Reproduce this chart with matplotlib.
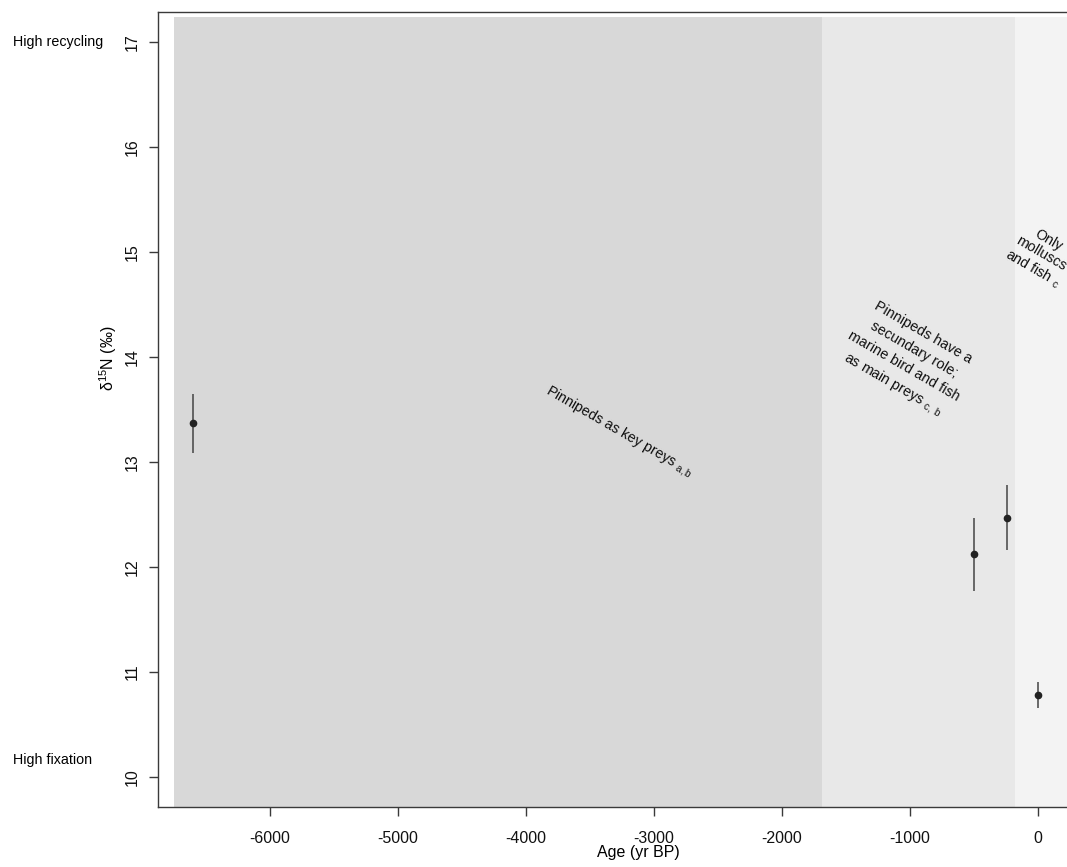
import matplotlib
matplotlib.use("Agg")
import matplotlib.pyplot as plt
from matplotlib.patches import Rectangle

plt.rcParams["font.family"] = ["Liberation Sans", "DejaVu Sans"]
plt.rcParams["mathtext.fontset"] = "custom"
plt.rcParams["mathtext.rm"] = "Liberation Sans"
plt.rcParams["mathtext.it"] = "Liberation Sans:italic"

# samples: age (yr BP), mean d15N and error
ages = [-6600, -500, -240, 0]
d15n = [13.37, 12.12, 12.47, 10.78]
d15n_err = [0.28, 0.35, 0.31, 0.12]

# diet periods (start, end) in yr BP and their shading
period_edges = [-6750, -1690, -180, 625]
period_colors = ["#d8d8d8", "#e8e8e8", "#f3f3f3"]
period_labels = [
    "Pinnipeds as key preys ${}_{\\mathrm{a,b}}$",
    "Pinnipeds have a\nsecundary role;\nmarine bird and fish\nas main preys ${}_{\\mathrm{c,\\ b}}$",
    "Only\nmolluscs\nand fish ${}_{\\mathrm{c}}$",
]
label_pos = [(-3270, 13.29), (-1020, 13.97), (16, 14.97)]
label_spacing = [1.2, 1.45, 1.15]

x_ticks = [-6000, -5000, -4000, -3000, -2000, -1000, 0]
y_ticks = [10, 11, 12, 13, 14, 15, 16, 17]

W, H = 1067, 867
fig = plt.figure(figsize=(W / 100, H / 100), dpi=100)
ax = fig.add_axes([158 / W, 60 / H, 960 / W, 795 / H])
ax.set_xlim(-6875, 625)
ax.set_ylim(9.714, 17.286)

for i, color in enumerate(period_colors):
    ax.add_patch(Rectangle((period_edges[i], 9.6), period_edges[i + 1] - period_edges[i],
                           17.24 - 9.6, facecolor=color, edgecolor="none", zorder=0))

for (x, y), text, ls in zip(label_pos, period_labels, label_spacing):
    ax.text(x, y, text, rotation=-30, rotation_mode="anchor", ha="center", va="center",
            multialignment="center", fontsize=10.3, color="#111111", linespacing=ls)

ax.errorbar(ages, d15n, yerr=d15n_err, fmt="o", color="#222222", ecolor="#444444",
            elinewidth=1.1, markersize=4.5, capsize=0, zorder=3)

for side in ["left", "top", "bottom", "right"]:
    ax.spines[side].set_color("#3a3a3a")
    ax.spines[side].set_linewidth(1.0)

ax.set_xticks(x_ticks)
ax.set_xticklabels([str(t) for t in x_ticks])
ax.set_yticks(y_ticks)
ax.set_yticklabels([str(t) for t in y_ticks], rotation=90, va="center")
ax.tick_params(axis="both", length=6.5, width=1.0, color="#3a3a3a", labelsize=11.5,
               labelcolor="#111111")
ax.tick_params(axis="x", pad=11)
ax.tick_params(axis="y", pad=7)

fig.text(638 / W, 1 - 852 / H, "Age (yr BP)", ha="center", va="center", fontsize=11.5)
fig.text(108 / W, 1 - 358 / H, "δ$^{15}$N (‰)", rotation=90, ha="center", va="center",
         fontsize=11.5)
fig.text(13 / W, 1 - 42 / H, "High recycling", ha="left", va="center", fontsize=10.3)
fig.text(13 / W, 1 - 760 / H, "High fixation", ha="left", va="center", fontsize=10.3)

fig.savefig("out.png", dpi=100)
